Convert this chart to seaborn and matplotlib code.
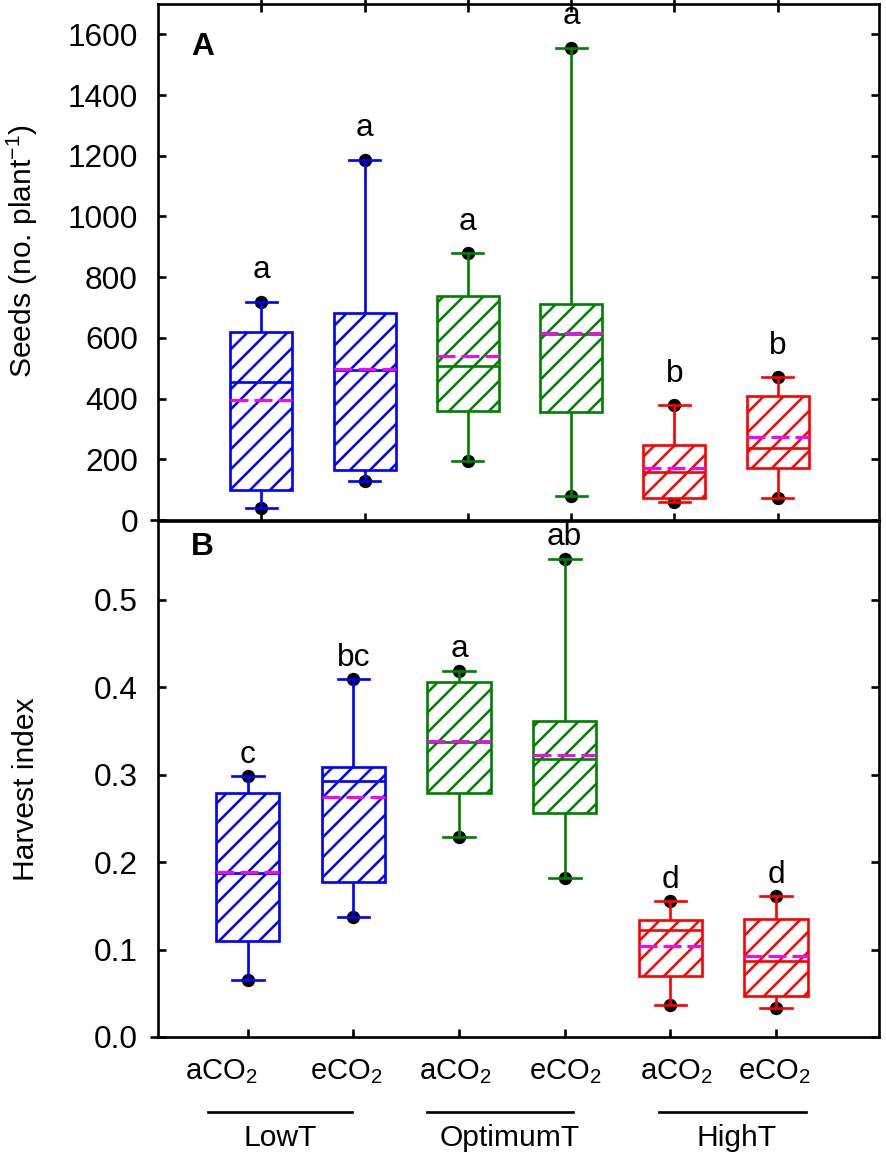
import numpy as np
import pandas as pd
import matplotlib
matplotlib.use('Agg')
import matplotlib.pyplot as plt
import matplotlib.transforms as mtransforms
import seaborn as sns

# treatments (temperature x CO2)
conds = ['LowT aCO2', 'LowT eCO2', 'OptimumT aCO2', 'OptimumT eCO2', 'HighT aCO2', 'HighT eCO2']
temps = ['LowT', 'LowT', 'OptimumT', 'OptimumT', 'HighT', 'HighT']
tick_labels = ['aCO$_2$', 'eCO$_2$', 'aCO$_2$', 'eCO$_2$', 'aCO$_2$', 'eCO$_2$']
group_names = ['LowT', 'OptimumT', 'HighT']
temp_colors = {'LowT': '#0000FF', 'OptimumT': '#008000', 'HighT': '#FF0000'}

# panel A: seeds per plant
seeds_low = [39, 129, 195, 80, 59, 74]
seeds_q1 = [100, 165, 360, 356, 74, 170]
seeds_med = [455, 494, 507, 612, 159, 237]
seeds_q3 = [618, 681, 739, 713, 248, 409]
seeds_high = [719, 1187, 880, 1556, 378, 470]
seeds_mean = [394, 496, 541, 615, 172, 272]
seeds_letters = ['a', 'a', 'a', 'a', 'b', 'b']

# panel B: harvest index
hi_low = [0.065, 0.137, 0.229, 0.182, 0.037, 0.033]
hi_q1 = [0.110, 0.177, 0.279, 0.256, 0.070, 0.047]
hi_med = [0.188, 0.293, 0.337, 0.318, 0.122, 0.087]
hi_q3 = [0.279, 0.309, 0.406, 0.361, 0.134, 0.135]
hi_high = [0.298, 0.409, 0.419, 0.547, 0.155, 0.161]
hi_mean = [0.189, 0.274, 0.339, 0.322, 0.104, 0.093]
hi_letters = ['c', 'bc', 'a', 'ab', 'd', 'd']

plt.rcParams['font.family'] = ['Liberation Sans', 'DejaVu Sans']
plt.rcParams['mathtext.default'] = 'regular'
plt.rcParams['hatch.linewidth'] = 1.5

DPI = 120
fig = plt.figure(figsize=(886 / DPI, 1157 / DPI), dpi=DPI)
axA = fig.add_axes([158 / 886, 1 - 520 / 1157, 721 / 886, 516 / 1157])
axB = fig.add_axes([158 / 886, 1 - 1037 / 1157, 721 / 886, 516 / 1157])


def draw_panel(ax, low, q1, med, q3, high, mean, letters, letter_off):
    df = pd.DataFrame({'cond': conds * 5, 'temp': temps * 5,
                       'val': low + q1 + med + q3 + high})
    dots = pd.DataFrame({'cond': conds * 2, 'val': low + high})

    sns.stripplot(data=dots, x='cond', y='val', order=conds, color='black',
                  size=8, jitter=False, zorder=1.5, ax=ax)
    for t, c in temp_colors.items():
        sns.boxplot(data=df[df['temp'] == t], x='cond', y='val', order=conds,
                    color='white', linecolor=c, linewidth=1.6, width=0.6,
                    whis=np.inf, showfliers=False, ax=ax)
    for p in ax.patches:
        p.set_hatch('//')
        p.set_edgecolor(p.get_edgecolor())

    pos = np.arange(len(conds))
    ax.hlines(mean, pos - 0.3, pos + 0.3, colors='#FF00FF',
              linestyles=(0, (6, 2)), linewidth=1.8, zorder=4)

    for x, top, lab in zip(pos, high, letters):
        ax.annotate(lab, xy=(x, top), xytext=(0, letter_off), textcoords='offset points',
                    ha='center', va='baseline', fontsize=19)

    for s in ax.spines.values():
        s.set_linewidth(1.6)
    ax.tick_params(axis='y', direction='in', left=True, right=True, length=5,
                   width=1.6, labelsize=19, pad=12)
    # small outward tick at zero
    ax.plot([-0.011, 0], [0, 0], transform=ax.get_yaxis_transform(), color='k',
            lw=1.6, clip_on=False, solid_capstyle='butt')
    ax.set_xlabel('')


draw_panel(axA, seeds_low, seeds_q1, seeds_med, seeds_q3, seeds_high, seeds_mean,
           seeds_letters, 14)
draw_panel(axB, hi_low, hi_q1, hi_med, hi_q3, hi_high, hi_mean, hi_letters, 8)

# panel A axes
axA.set_xlim(-1.0, 5.98)
axA.set_ylim(0, 1700)
axA.set_yticks(np.arange(0, 1601, 200))
axA.set_xticks(np.arange(len(conds)))
axA.tick_params(axis='x', direction='inout', top=True, bottom=True, length=9,
                width=1.6, labelbottom=False)
axA.set_ylabel('Seeds (no. plant$^{-1}$)', fontsize=18)
axA.yaxis.set_label_coords(-0.164, 0.52)
axA.text(0.062, 0.917, 'A', transform=axA.transAxes, fontsize=19,
         fontweight='bold', ha='center', va='center')

# panel B axes
axB.set_xlim(-0.85, 5.975)
axB.set_ylim(0, 0.59)
axB.set_yticks(np.arange(0, 0.51, 0.1))
axB.set_yticklabels([f'{v:.1f}' for v in np.arange(0, 0.51, 0.1)])
axB.set_xticks(np.arange(len(conds)))
axB.set_xticklabels(tick_labels)
axB.tick_params(axis='x', direction='in', top=False, bottom=True, length=5,
                width=1.6, labelsize=17.5, pad=12)
axB.set_ylabel('Harvest index', fontsize=18)
axB.yaxis.set_label_coords(-0.164, 0.48)
axB.text(0.062, 0.95, 'B', transform=axB.transAxes, fontsize=19,
         fontweight='bold', ha='center', va='center')

label_shift_px = [-27, -7, -4, 0, 6, -2]
for lab, dx in zip(axB.get_xticklabels(), label_shift_px):
    lab.set_transform(lab.get_transform() +
                      mtransforms.ScaledTranslation(dx / DPI, 0, fig.dpi_scale_trans))

# temperature group bars under the CO2 labels
group_spans = [(-0.38, 0.99), (1.70, 3.08), (3.89, 5.28)]
group_text_x = [0.31, 2.48, 4.63]
trans = axB.get_xaxis_transform()
for (x0, x1), tx, name in zip(group_spans, group_text_x, group_names):
    axB.plot([x0, x1], [-0.145, -0.145], transform=trans, color='k', lw=1.6,
             clip_on=False)
    axB.text(tx, -0.195, name, transform=trans, ha='center', va='center', fontsize=18)

fig.savefig('out.png', dpi=DPI)
